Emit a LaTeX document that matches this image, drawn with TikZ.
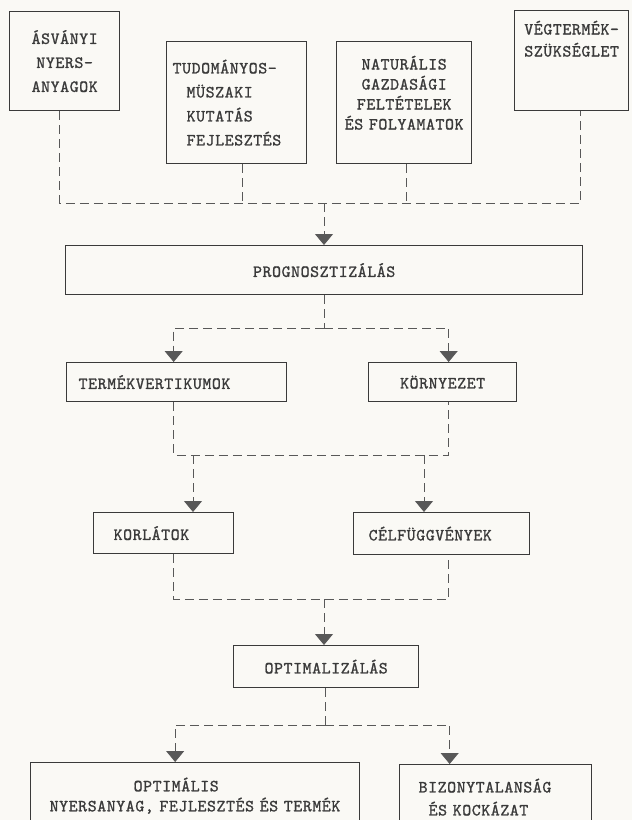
\documentclass[tikz,border=0pt]{standalone}
\usepackage{fontspec}
\usepackage{tikz}
\usetikzlibrary{arrows.meta}
\definecolor{paper}{RGB}{250,249,245}
\definecolor{ink}{RGB}{58,58,58}
\newfontfamily\typewriter{lmmono10-regular.otf}[LetterSpace=3.5, FakeBold=1.2]
\tikzstyle{block} = [rectangle, draw=ink, line width=1.3pt, text=ink, inner sep=0pt, anchor=north west, align=center, font={\typewriter\fontsize{17}{22}\selectfont}]
\tikzstyle{link} = [draw=ink!85, line width=0.9pt, dash pattern=on 9pt off 5pt]
\tikzstyle{arrow} = [link, -{Triangle[width=18pt,length=11pt]}]

\begin{document}
\begin{tikzpicture}[x=1pt, y=-1pt]

	% Page
	\useasboundingbox (0,0) rectangle (632,820);
	\fill [paper] (0,0) rectangle (632,820);

	% Nodes
	\node (ore) [block, minimum width=110pt, minimum height=99pt, text width=110pt, font={\typewriter\fontsize{17}{24}\selectfont}] at (9,11) {ÁSVÁNYI\\NYERS-\\ANYAGOK};
	\node (research) [block, minimum width=140pt, minimum height=122pt, text width=140pt, align=left, font={\typewriter\fontsize{17}{24}\selectfont}] at (166,41) {\hspace*{6pt}TUDOMÁNYOS-\\\hspace*{20pt}MÜSZAKI\\\hspace*{20pt}KUTATÁS\\\hspace*{20pt}FEJLESZTÉS};
	\node (nature) [block, minimum width=135pt, minimum height=122pt, text width=135pt, font={\typewriter\fontsize{17}{20}\selectfont}] at (336,41) {NATURÁLIS\\GAZDASÁGI\\FELTÉTELEK\\ÉS FOLYAMATOK\\\mbox{}};
	\node (demand) [block, minimum width=114pt, minimum height=100pt, text width=114pt] at (514,10) {VÉGTERMÉK-\\SZÜKSÉGLET\\[22pt]\mbox{}};
	\node (forecast) [block, minimum width=517pt, minimum height=49pt] at (65,245) {PROGNOSZTIZÁLÁS};
	\node (product) [block, minimum width=220pt, minimum height=39pt, inner xsep=12pt, text width=196pt, align=left] at (66,362) {TERMÉKVERTIKUMOK};
	\node (environment) [block, minimum width=148pt, minimum height=39pt] at (368,362) {KÖRNYEZET};
	\node (limits) [block, minimum width=140pt, minimum height=41pt, inner xsep=20pt, text width=100pt, align=left] at (93,512) {KORLÁTOK};
	\node (objective) [block, minimum width=176pt, minimum height=42pt, inner xsep=15pt, text width=146pt, align=left] at (353,512) {CÉLFÜGGVÉNYEK};
	\node (optimize) [block, minimum width=185pt, minimum height=42pt] at (233,645) {OPTIMALIZÁLÁS};
	\node (optimum) [block, minimum width=329pt, minimum height=66pt, text width=329pt, align=left, font={\typewriter\fontsize{17}{20}\selectfont}] at (30,762) {\hspace*{103pt}OPTIMÁLIS\\\hspace*{19pt}NYERSANYAG, FEJLESZTÉS ÉS TERMÉK};
	\node (risk) [block, minimum width=192pt, minimum height=65pt, inner xsep=19pt, text width=154pt, align=left, font={\typewriter\fontsize{17}{23}\selectfont}] at (399,764) {BIZONYTALANSÁG\\\hspace*{10pt}ÉS KOCKÁZAT};

	% Junctions
	\coordinate (bus) at (324,203);
	\coordinate (split) at (324,328);
	\coordinate (join) at (324,455);
	\coordinate (tapL) at (193,455);
	\coordinate (tapR) at (424,455);
	\coordinate (join2) at (324,599);
	\coordinate (split2) at (325,725);

	% Arrows
	\draw [link] ([xshift=-5pt]ore.south) |- ([xshift=9pt]demand.south |- bus) -- ([xshift=9pt]demand.south);
	\draw [link] ([xshift=6pt]research.south) -- ([xshift=6pt]research.south |- bus);
	\draw [link] ([xshift=2.5pt]nature.south) -- ([xshift=2.5pt]nature.south |- bus);
	\draw [arrow] (bus) -- (bus |- forecast.north);

	\draw [link] (split |- forecast.south) -- (split);
	\draw [arrow] (split) -| ([xshift=-3pt]product.north);
	\draw [arrow] (split) -| ([xshift=6pt]environment.north);

	\draw [link] ([xshift=-3pt]product.south) |- ([xshift=6pt]environment.south |- join) -- ([xshift=6pt]environment.south);
	\draw [arrow] (tapL) -- (tapL |- limits.north);
	\draw [arrow] (tapR) -- (tapR |- objective.north);

	\draw [link] ([xshift=10pt]limits.south) |- ([xshift=7pt]objective.south |- join2) -- ([xshift=7pt]objective.south);
	\draw [arrow] (join2) -- (join2 |- optimize.north);

	\draw [link] (split2 |- optimize.south) -- (split2);
	\draw [arrow] (split2) -| ([xshift=-20pt]optimum.north);
	\draw [arrow] (split2) -| ([xshift=-46pt]risk.north);

\end{tikzpicture}
\end{document}
